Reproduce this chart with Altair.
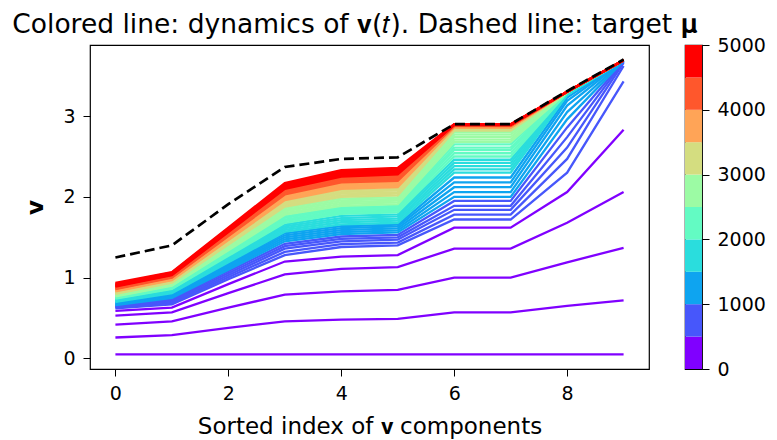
import altair as alt
import pandas as pd

# ---- data ----
snapshot_times = [0, 100, 200, 300, 400, 500, 600, 700, 800, 900,
                  1000, 1100, 1200, 1300, 1400, 1500, 1600, 1700, 1800, 1900,
                  2000, 2100, 2200, 2300, 2400, 2500, 2600, 2700, 2800, 2900,
                  3000, 3100, 3200, 3300, 3400, 3500, 3600, 3700, 3800, 3900,
                  4000, 4100, 4200, 4300, 4400, 4500, 4600, 4700, 4800, 4900,
                  5000]
component_index = [0, 1, 2, 3, 4, 5, 6, 7, 8, 9]

v_c0 = [0.05, 0.26, 0.42, 0.53, 0.59, 0.62, 0.63, 0.64, 0.645, 0.653,
        0.66, 0.668, 0.676, 0.684, 0.692, 0.70, 0.708, 0.716, 0.724, 0.732,
        0.74, 0.746, 0.752, 0.758, 0.764, 0.77, 0.776, 0.782, 0.788, 0.794,
        0.80, 0.806, 0.812, 0.818, 0.824, 0.83, 0.836, 0.842, 0.848, 0.854,
        0.86, 0.866, 0.872, 0.878, 0.884, 0.89, 0.898, 0.906, 0.914, 0.922,
        0.935]
v_c1 = [0.05, 0.29, 0.46, 0.57, 0.63, 0.67, 0.686, 0.702, 0.718, 0.734,
        0.75, 0.762, 0.774, 0.786, 0.798, 0.81, 0.82, 0.83, 0.84, 0.85,
        0.86, 0.868, 0.876, 0.884, 0.892, 0.90, 0.908, 0.916, 0.924, 0.932,
        0.94, 0.946, 0.952, 0.958, 0.964, 0.97, 0.976, 0.982, 0.988, 0.994,
        1.00, 1.006, 1.012, 1.018, 1.024, 1.03, 1.038, 1.046, 1.054, 1.062,
        1.07]
v_c2 = [0.05, 0.38, 0.63, 0.81, 0.92, 0.98, 1.005, 1.03, 1.055, 1.08,
        1.10, 1.118, 1.136, 1.154, 1.172, 1.19, 1.206, 1.222, 1.238, 1.254,
        1.27, 1.284, 1.298, 1.312, 1.326, 1.34, 1.354, 1.368, 1.382, 1.396,
        1.41, 1.421, 1.432, 1.443, 1.454, 1.465, 1.475, 1.485, 1.495, 1.505,
        1.515, 1.525, 1.535, 1.545, 1.555, 1.565, 1.576, 1.587, 1.598, 1.609,
        1.62]
v_c3 = [0.05, 0.46, 0.79, 1.04, 1.20, 1.28, 1.32, 1.36, 1.39, 1.42,
        1.45, 1.475, 1.50, 1.525, 1.55, 1.57, 1.592, 1.614, 1.636, 1.658,
        1.68, 1.70, 1.72, 1.74, 1.76, 1.78, 1.80, 1.82, 1.84, 1.86,
        1.88, 1.896, 1.912, 1.928, 1.944, 1.96, 1.974, 1.988, 2.002, 2.016,
        2.03, 2.044, 2.058, 2.072, 2.086, 2.10, 2.114, 2.128, 2.142, 2.156,
        2.17]
v_c4 = [0.05, 0.48, 0.83, 1.11, 1.26, 1.38, 1.415, 1.45, 1.48, 1.51,
        1.54, 1.565, 1.59, 1.614, 1.637, 1.66, 1.686, 1.712, 1.738, 1.764,
        1.79, 1.81, 1.83, 1.85, 1.87, 1.89, 1.912, 1.934, 1.956, 1.978,
        2.00, 2.02, 2.04, 2.06, 2.08, 2.10, 2.116, 2.132, 2.148, 2.164,
        2.18, 2.194, 2.208, 2.222, 2.236, 2.25, 2.266, 2.282, 2.298, 2.314,
        2.33]
v_c5 = [0.05, 0.49, 0.85, 1.13, 1.28, 1.40, 1.435, 1.47, 1.50, 1.53,
        1.56, 1.585, 1.61, 1.634, 1.657, 1.68, 1.706, 1.732, 1.758, 1.784,
        1.81, 1.83, 1.85, 1.87, 1.89, 1.91, 1.932, 1.954, 1.976, 1.998,
        2.02, 2.04, 2.06, 2.08, 2.10, 2.12, 2.136, 2.152, 2.168, 2.184,
        2.20, 2.216, 2.232, 2.248, 2.264, 2.28, 2.296, 2.312, 2.328, 2.344,
        2.36]
v_c6 = [0.05, 0.57, 1.00, 1.36, 1.62, 1.72, 1.78, 1.84, 1.89, 1.95,
        2.00, 2.06, 2.12, 2.18, 2.24, 2.30, 2.34, 2.38, 2.42, 2.46,
        2.50, 2.54, 2.58, 2.61, 2.65, 2.68, 2.71, 2.74, 2.77, 2.80,
        2.82, 2.83, 2.84, 2.845, 2.85, 2.855, 2.86, 2.865, 2.87, 2.873,
        2.876, 2.879, 2.882, 2.885, 2.888, 2.89, 2.892, 2.894, 2.896, 2.898,
        2.90]
v_c7 = [0.05, 0.57, 1.00, 1.36, 1.62, 1.72, 1.78, 1.84, 1.89, 1.95,
        2.00, 2.06, 2.12, 2.18, 2.24, 2.30, 2.34, 2.38, 2.42, 2.46,
        2.50, 2.54, 2.58, 2.61, 2.65, 2.68, 2.71, 2.74, 2.77, 2.80,
        2.82, 2.83, 2.84, 2.845, 2.85, 2.855, 2.86, 2.865, 2.87, 2.873,
        2.876, 2.879, 2.882, 2.885, 2.888, 2.89, 2.892, 2.894, 2.896, 2.898,
        2.90]
v_c8 = [0.05, 0.65, 1.19, 1.68, 2.06, 2.30, 2.47, 2.61, 2.74, 2.86,
        2.96, 3.05, 3.13, 3.19, 3.23, 3.26, 3.27, 3.28, 3.285, 3.29,
        3.29, 3.293, 3.295, 3.297, 3.30, 3.30, 3.30, 3.30, 3.30, 3.30,
        3.30, 3.30, 3.30, 3.30, 3.30, 3.30, 3.30, 3.30, 3.30, 3.30,
        3.30, 3.30, 3.30, 3.30, 3.30, 3.30, 3.30, 3.30, 3.30, 3.30,
        3.30]
v_c9 = [0.05, 0.72, 1.37, 2.06, 2.83, 3.43, 3.62, 3.66, 3.675, 3.68,
        3.685, 3.688, 3.69, 3.69, 3.69, 3.69, 3.69, 3.69, 3.69, 3.69,
        3.69, 3.69, 3.69, 3.69, 3.69, 3.69, 3.69, 3.69, 3.69, 3.69,
        3.69, 3.69, 3.69, 3.69, 3.69, 3.69, 3.69, 3.69, 3.69, 3.69,
        3.69, 3.69, 3.69, 3.69, 3.69, 3.69, 3.69, 3.69, 3.69, 3.69,
        3.69]
target_mu = [1.25, 1.40, 1.91, 2.37, 2.47, 2.49, 2.90, 2.90, 3.31, 3.70]

bin_edges = [0, 500, 1000, 1500, 2000, 2500, 3000, 3500, 4000, 4500, 5000]
bin_colors = ["#8000ff", "#4757fb", "#0ea4f0", "#2adddd", "#63fbc3",
              "#9cfba4", "#d4dd80", "#ffa457", "#ff572c", "#ff0000"]
colorbar_ticks = [0, 1000, 2000, 3000, 4000, 5000]
x_ticks = [0, 2, 4, 6, 8]
y_ticks = [0, 1, 2, 3]

components = [v_c0, v_c1, v_c2, v_c3, v_c4, v_c5, v_c6, v_c7, v_c8, v_c9]

rows = []
for j, t in enumerate(snapshot_times):
    for i, comp in zip(component_index, components):
        rows.append({"t": t, "idx": i, "v": comp[j]})
df = pd.DataFrame(rows)
mu_df = pd.DataFrame({"idx": component_index, "mu": target_mu})
cb_df = pd.DataFrame({"lo": bin_edges[:-1], "hi": bin_edges[1:], "c": bin_colors})

FONT = "DejaVu Sans"
x_scale = alt.Scale(domain=[-0.45, 9.45], nice=False, zero=False)
y_scale = alt.Scale(domain=[-0.13, 3.88], nice=False, zero=False)

lines = alt.Chart(df).mark_line(strokeWidth=2.3).encode(
    x=alt.X("idx:Q", scale=x_scale,
            axis=alt.Axis(values=x_ticks, format="d",
                          title="Sorted index of 𝐯 components", titlePadding=12)),
    y=alt.Y("v:Q", scale=y_scale,
            axis=alt.Axis(values=y_ticks, format="d", title="v",
                          titleFontWeight="bold", titlePadding=15)),
    color=alt.Color("t:Q", scale=alt.Scale(type="threshold", domain=bin_edges[1:-1],
                                           range=bin_colors), legend=None),
    detail="t:Q",
)

mu_line = alt.Chart(mu_df).mark_line(color="black", strokeWidth=2.7,
                                     strokeDash=[10, 5]).encode(
    x=alt.X("idx:Q", scale=x_scale),
    y=alt.Y("mu:Q", scale=y_scale),
)

main = alt.layer(lines, mu_line).properties(width=559, height=324)

colorbar = alt.Chart(cb_df).mark_rect().encode(
    y=alt.Y("lo:Q", scale=alt.Scale(domain=[0, 5000], nice=False, zero=False),
            axis=alt.Axis(orient="right", values=colorbar_ticks, format="d", title=None)),
    y2="hi:Q",
    x=alt.value(0),
    x2=alt.value("width"),
    color=alt.Color("c:N", scale=None, legend=None),
).properties(width=17, height=324)

chart = alt.hconcat(main, colorbar, spacing=34).properties(
    padding={"left": 4, "top": 3, "right": 2, "bottom": 4},
    background="white",
    title=alt.TitleParams("Colored line: dynamics of 𝐯(𝑡). Dashed line: target 𝛍",
                          fontSize=26.5, font=FONT, fontWeight="normal",
                          anchor="start", dx=-12, offset=-3, color="black"),
).configure_view(
    stroke="black", strokeWidth=1.2
).configure_axis(
    labelFont=FONT, labelFontSize=19, labelColor="black",
    titleFont=FONT, titleFontSize=23, titleColor="black", titleFontWeight="normal",
    tickColor="black", tickSize=7, labelPadding=8, grid=False,
    domain=False,
)

chart.save("out.html", embed_options={"renderer": "svg", "actions": False})
